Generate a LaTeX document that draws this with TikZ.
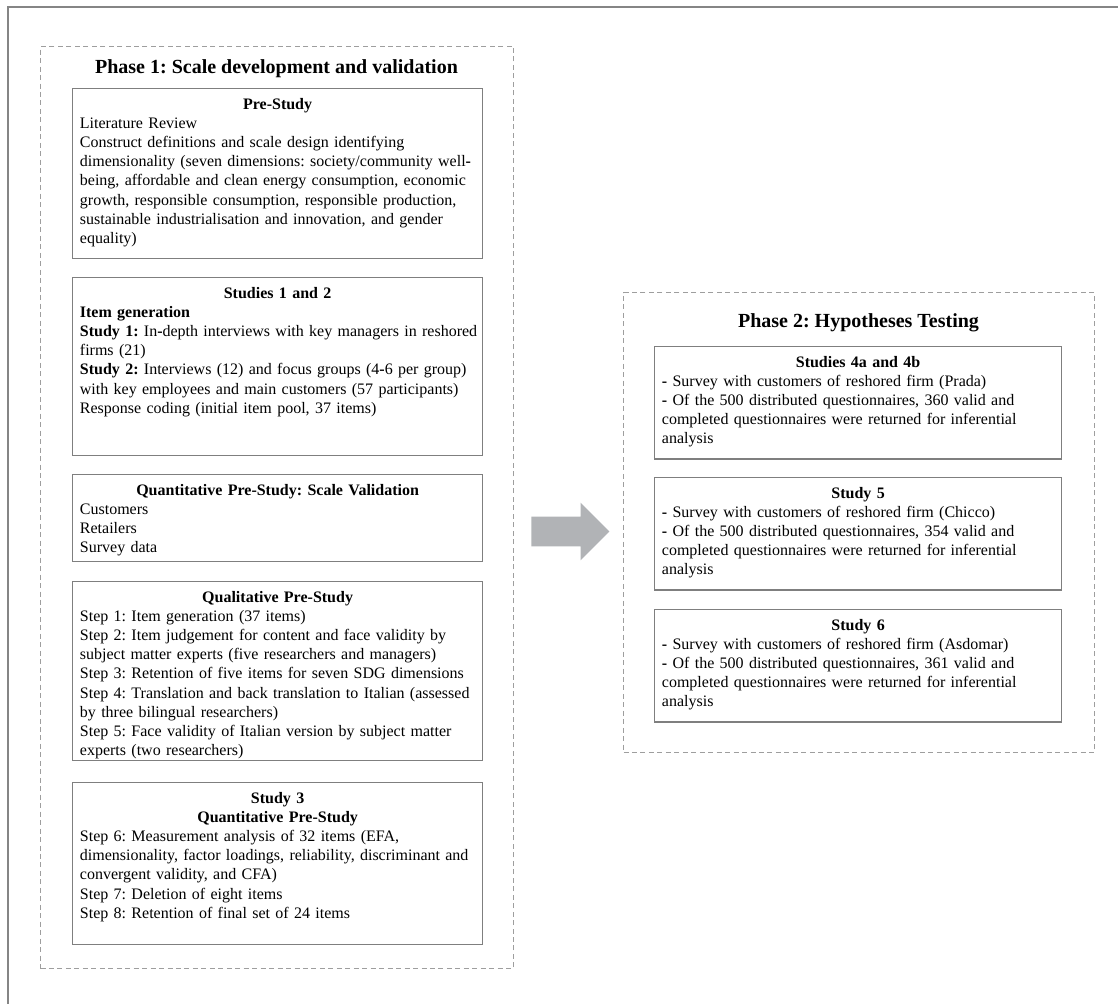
\documentclass[tikz,border=0pt]{standalone}
\usepackage{fontspec}
\setmainfont{Liberation Serif}
\usetikzlibrary{shapes.arrows}

\definecolor{framegray}{HTML}{858585}
\definecolor{dashgray}{HTML}{9E9E9E}
\definecolor{boxgray}{HTML}{7F7F7F}
\definecolor{arrowgray}{HTML}{B1B3B6}

\frenchspacing

% centred bold heading line, top strut, bottom strut
\newcommand{\hd}[1]{\hfill\textbf{#1}\hfill\null}
\newcommand{\tp}{\rule{0pt}{15.4pt}}
\newcommand{\ft}[1]{\rule[-#1]{0pt}{#1}}

\tikzset{
  outerline/.style={draw=framegray, line width=0.9pt},
  phase/.style={draw=dashgray, line width=0.75pt, dash pattern=on 3.75pt off 2.6pt, anchor=north west, inner sep=0pt},
  phasetitle/.style={anchor=base, inner sep=0pt, font=\fontsize{15pt}{18pt}\selectfont\bfseries},
  stage/.style={draw=boxgray, line width=0.9pt, anchor=north west, align=left, inner xsep=5.5pt, inner ysep=0pt, font=\fontsize{12pt}{14.4pt}\selectfont},
  leftstage/.style={stage, text width=296.5pt},
  rightstage/.style={stage, text width=294.25pt},
  shiftarrow/.style={single arrow, draw=none, fill=arrowgray, inner xsep=0pt, inner ysep=10.875pt, minimum height=58.5pt, single arrow head extend=10.5pt, single arrow tip angle=90, anchor=tail}
}

\begin{document}
\begin{tikzpicture}[x=0.75pt, y=-0.75pt]
		\useasboundingbox (0,0) rectangle (1118,1004);
		\draw[outerline] (1118,7) -- (8,7) -- (8,1004);
		
		% phase 1
		\node[phase, minimum width=354.75pt, minimum height=691.5pt] (ph1) at (40,46) {};
		\node[phasetitle] (t1) at (276.5,73) {Phase 1: Scale development and validation};
		
		\node[leftstage] (pre) at (72,88) {\tp\hd{Pre-Study}\\
			Literature Review\\
			Construct definitions and scale design identifying\\
			dimensionality (seven dimensions: society/community well\textbf{-}\\
			being, affordable and clean energy consumption, economic\\
			growth, responsible consumption, responsible production,\\
			sustainable industrialisation and innovation, and gender\\
			equality)\ft{11.25pt}};
		
		\node[leftstage] (s12) at (72,277) {\tp\hd{Studies 1 and 2}\\
			\textbf{Item generation}\\
			\mbox{\textbf{Study 1:} In\textbf{-}depth interviews with key managers in reshored}\\
			firms (21)\\
			\textbf{Study 2:} Interviews (12) and focus groups (4\textbf{-}6 per group)\\
			with key employees and main customers (57 participants)\\
			Response coding (initial item pool, 37 items)\ft{31.5pt}};
		
		\node[leftstage] (quant) at (72,474) {\tp\hd{Quantitative Pre-Study: Scale Validation}\\
			Customers\\
			Retailers\\
			Survey data\ft{6.75pt}};
		
		\node[leftstage] (qual) at (72,581) {\tp\hd{Qualitative Pre-Study}\\
			Step 1: Item generation (37 items)\\
			Step 2: Item judgement for content and face validity by\\
			subject matter experts (five researchers and managers)\\
			Step 3: Retention of five items for seven SDG dimensions\\
			Step 4: Translation and back translation to Italian (assessed\\
			by three bilingual researchers)\\
			Step 5: Face validity of Italian version by subject matter\\
			experts (two researchers)\ft{3.75pt}};
		
		\node[leftstage] (s3) at (72,782) {\tp\hd{Study 3}\\
			\hd{Quantitative Pre-Study}\\
			Step 6: Measurement analysis of 32 items (EFA,\\
			dimensionality, factor loadings, reliability, discriminant and\\
			convergent validity, and CFA)\\
			Step 7: Deletion of eight items\\
			Step 8: Retention of final set of 24 items\ft{19.5pt}};
		
		% phase 2
		\node[phase, minimum width=353.25pt, minimum height=345pt] (ph2) at (623,292) {};
		\node[phasetitle] (t2) at (858.5,327) {Phase 2: Hypotheses Testing};
		
		\foreach \nm/\ttl/\firm/\num/\yy in {s4/{Studies 4a and 4b}/Prada/360/346, s5/{Study 5}/Chicco/354/477, s6/{Study 6}/Asdomar/361/609}
		\node[rightstage] (\nm) at (654,\yy) {\tp\hd{\ttl}\\
			\textbf{-} Survey with customers of reshored firm (\firm)\\
			\textbf{-} Of the 500 distributed questionnaires, \num{} valid and\\
			completed questionnaires were returned for inferential\\
			analysis\ft{11.25pt}};
		
		\node[shiftarrow] (arr) at (531,531.5) {};
		\end{tikzpicture}
\end{document}
